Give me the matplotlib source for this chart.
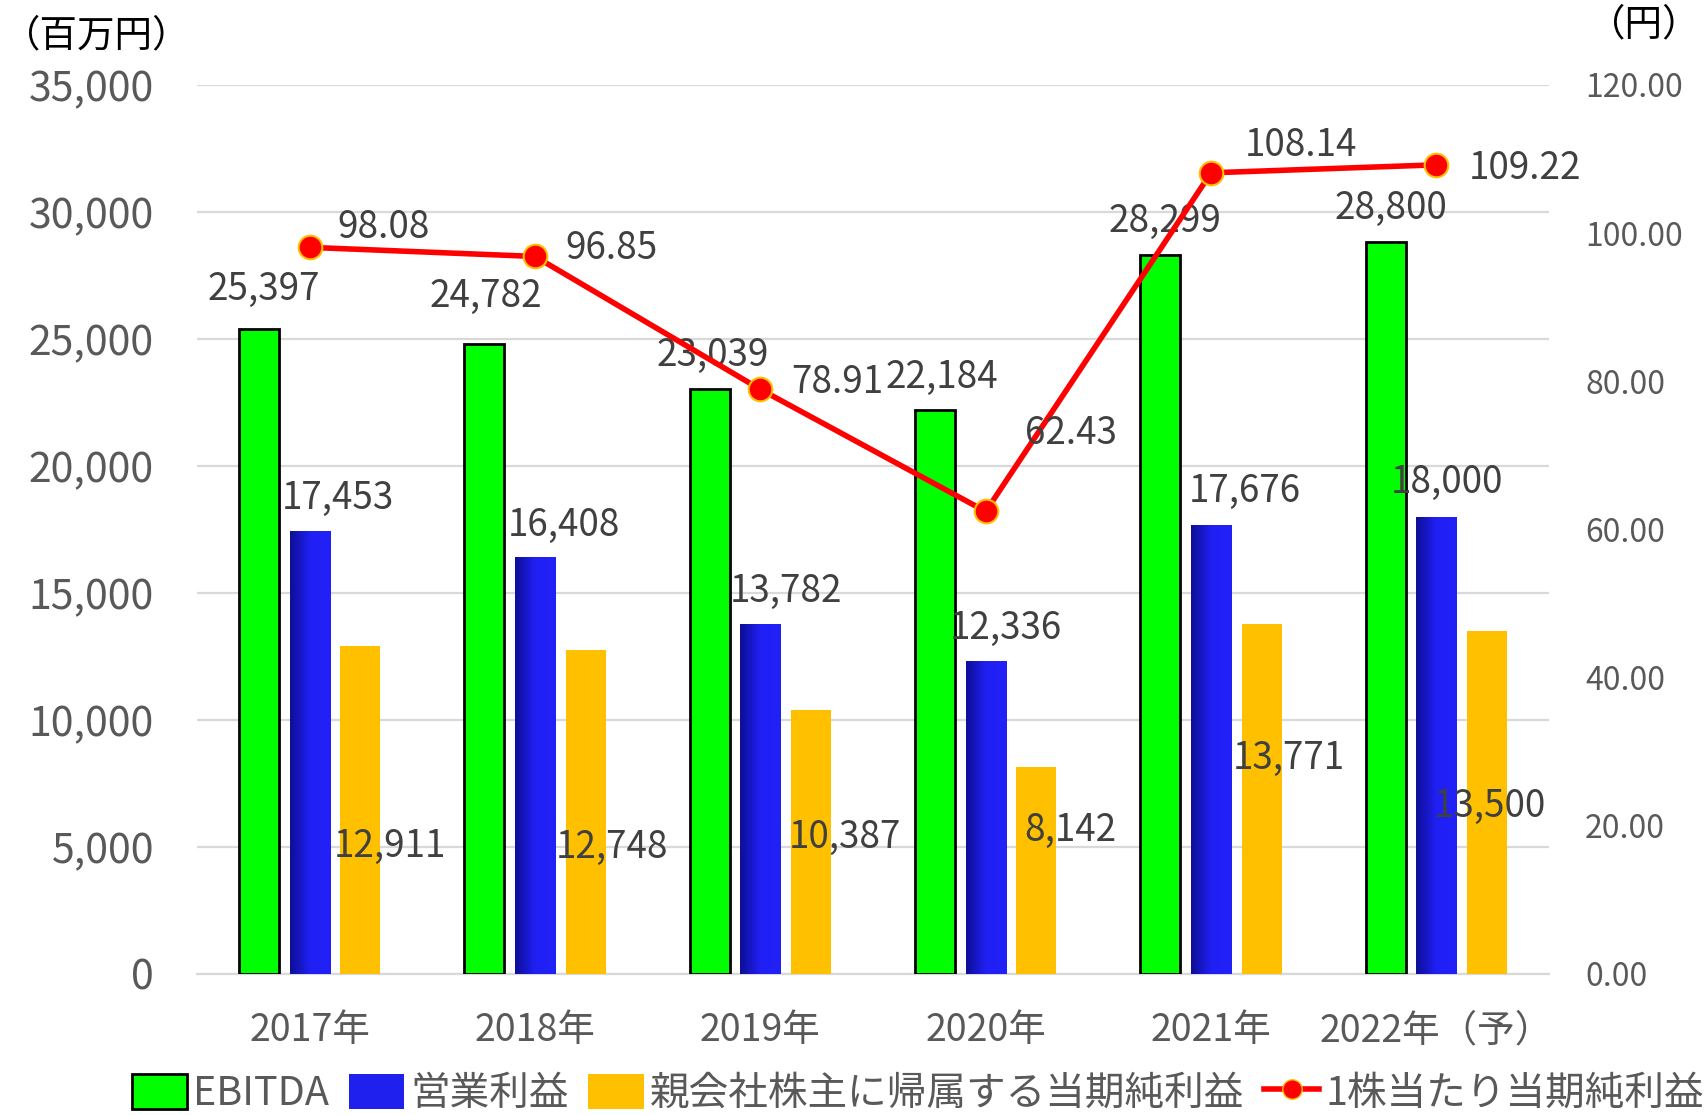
import numpy as np
import matplotlib
matplotlib.use('Agg')
import matplotlib.pyplot as plt
from matplotlib.lines import Line2D
from matplotlib.patches import Patch
from matplotlib.colors import LinearSegmentedColormap

plt.rcParams['font.family'] = ['Noto Sans CJK JP', 'DejaVu Sans']

# data
years = ['2017年', '2018年', '2019年', '2020年', '2021年', '2022年（予）']
ebitda = [25397, 24782, 23039, 22184, 28299, 28800]
eigyo = [17453, 16408, 13782, 12336, 17676, 18000]
junri = [12911, 12748, 10387, 8142, 13771, 13500]
eps = [98.08, 96.85, 78.91, 62.43, 108.14, 109.22]

# label positions (category x, value y) as placed in the original
ebitda_lbl = [(-0.205, 26933), (0.780, 26677), (1.790, 24372), (2.804, 23476), (3.795, 29622), (4.799, 30134)]
eigyo_lbl = [(0.123, 18739), (1.128, 17671), (2.114, 15067), (3.090, 13616), (4.152, 18995), (5.046, 19336)]
junri_lbl = [(0.355, 5037), (1.341, 4994), (2.374, 5378), (3.374, 5634), (4.346, 8494), (5.239, 6616)]
eps_lbl = [(0.328, 100.8), (1.341, 97.9), (2.341, 79.9), (3.379, 72.9), (4.399, 111.8), (5.394, 108.7)]

label_col = '#404040'
tick_col = '#595959'

fig = plt.figure(figsize=(17.06, 11.15), dpi=100)
ax = fig.add_axes([0.1155, 0.1265, 0.7925, 0.7973])
ax2 = ax.twinx()

x = np.arange(len(years))
w = 0.178
off = 0.225

b1 = ax.bar(x - off, ebitda, w, color='#00FF00', edgecolor='black', linewidth=2, zorder=3)
b2 = ax.bar(x, eigyo, w, color='#1F1FEE', linewidth=0, zorder=3)
b3 = ax.bar(x + off, junri, w, color='#FFC000', linewidth=0, zorder=3)

# gradient on the blue bars
cmap = LinearSegmentedColormap.from_list('bl', ['#0E0E96', '#2020F5', '#2222F8'])
grad = np.linspace(0, 1, 100).reshape(1, -1)
for p in b2:
    im = ax.imshow(grad, cmap=cmap, aspect='auto', zorder=3.5,
                   extent=[p.get_x(), p.get_x() + p.get_width(), 0, p.get_height()])
    im.set_clip_path(p)

ax.set_xlim(-0.5, len(years) - 0.5)
ax.set_ylim(0, 35000)
ax.set_yticks(range(0, 35001, 5000))
ax.set_yticklabels([f'{v:,}' for v in range(0, 35001, 5000)])
ax.grid(axis='y', color='#D9D9D9', linewidth=1.6, zorder=0)
ax.set_axisbelow(True)
ax.set_xticks(x)
ax.set_xticklabels(years, fontsize=27, color=tick_col)
ax.tick_params(axis='x', length=0, pad=27)
ax.tick_params(axis='y', length=0, labelsize=29.5, labelcolor=tick_col, pad=31)

for s in ['top', 'left', 'right']:
    ax.spines[s].set_visible(False)
    ax2.spines[s].set_visible(False)
ax.spines['bottom'].set_color('#D9D9D9')
ax.spines['bottom'].set_linewidth(1.6)
ax2.spines['bottom'].set_visible(False)

ax2.plot(x, eps, color='#FF0000', linewidth=4, marker='o', markersize=17,
         markerfacecolor='#FF0000', markeredgecolor='#FFC000', markeredgewidth=1.5, zorder=5)
ax2.set_ylim(0, 120)
ax2.set_yticks(range(0, 121, 20))
ax2.set_yticklabels([f'{v:.2f}' for v in range(0, 121, 20)])
ax2.tick_params(axis='y', length=0, labelsize=23, labelcolor=tick_col, pad=26)

for (lx, ly), v in zip(ebitda_lbl, ebitda):
    ax.text(lx, ly, f'{v:,}', ha='center', va='center', fontsize=26.5, color=label_col, zorder=6)
for (lx, ly), v in zip(eigyo_lbl, eigyo):
    ax.text(lx, ly, f'{v:,}', ha='center', va='center', fontsize=26.5, color=label_col, zorder=6)
for (lx, ly), v in zip(junri_lbl, junri):
    ax.text(lx, ly, f'{v:,}', ha='center', va='center', fontsize=26.5, color=label_col, zorder=6)
for (lx, ly), v in zip(eps_lbl, eps):
    ax2.text(lx, ly, f'{v:.2f}', ha='center', va='center', fontsize=26.5, color=label_col, zorder=6)

fig.text(0.002, 0.968, '（百万円）', fontsize=27, color='black', ha='left', va='center')
fig.text(0.997, 0.978, '（円）', fontsize=27, color='black', ha='right', va='center')

handles = [
    Patch(facecolor='#00FF00', edgecolor='black', linewidth=2),
    Patch(facecolor='#1F1FEE'),
    Patch(facecolor='#FFC000'),
    Line2D([0], [0], color='#FF0000', linewidth=4, marker='o', markersize=14,
           markerfacecolor='#FF0000', markeredgecolor='#FFC000'),
]
labels = ['EBITDA', '営業利益', '親会社株主に帰属する当期純利益', '1株当たり当期純利益']
fig.legend(handles, labels, loc='center', bbox_to_anchor=(0.538, 0.019), ncol=4,
           frameon=False, prop={'size': 28.5}, labelcolor=tick_col,
           handlelength=1.4, handleheight=1.0, handletextpad=0.15, columnspacing=0.5)

fig.savefig('out.png', dpi=100)
